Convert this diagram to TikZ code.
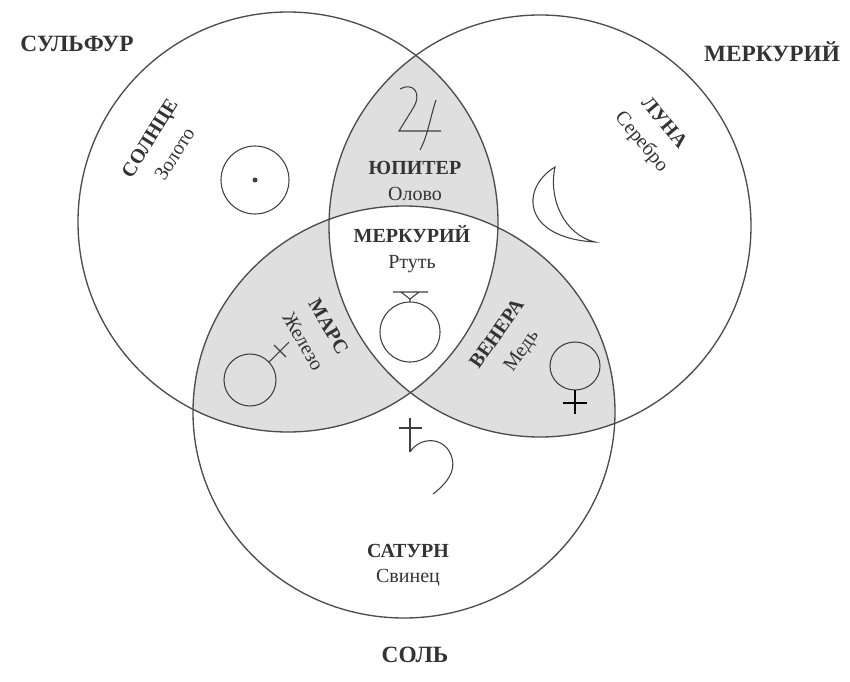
\documentclass[tikz,border=0pt]{standalone}
\usepackage{fontspec}
\setmainfont{Liberation Serif}
\begin{document}
\begin{tikzpicture}[
        x=0.75pt, y=-0.75pt,
        ring/.style={draw=black!70, line width=1pt},
        sign/.style={draw=black!75, line width=0.8pt},
        title/.style={font=\fontsize{17.5}{20}\selectfont\bfseries, text=black!80, inner sep=0pt},
        label/.style={font=\fontsize{15}{19}\selectfont, text=black!80, align=center, inner sep=0pt}
    ]
        \useasboundingbox (0,0) rectangle (850,682);
        \def\sulfurc{(288,222) circle [radius=210]}
        \def\mercuryc{(540,226) circle [radius=211]}
        \def\saltc{(404,412) ellipse [x radius=211, y radius=206]}

        % пересечения
        \begin{scope}
            \clip \sulfurc; \fill[gray!25] \mercuryc;
        \end{scope}
        \begin{scope}
            \clip \sulfurc; \fill[gray!25] \saltc;
        \end{scope}
        \begin{scope}
            \clip \mercuryc; \fill[gray!25] \saltc;
        \end{scope}
        \begin{scope}
            \clip \sulfurc; \clip \mercuryc; \fill[white] \saltc;
        \end{scope}
        \draw[ring] \sulfurc;
        \draw[ring] \mercuryc;
        \draw[ring] \saltc;

        % начала
        \node[title] (sulfur) at (77,44) {СУЛЬФУР};
        \node[title] (mercuryout) at (772,52) {МЕРКУРИЙ};
        \node[title] (salt) at (415,655) {СОЛЬ};

        % планеты и металлы
        \node[label, rotate=58] (sun) at (162,146) {\textbf{СОЛНЦЕ}\\[3pt]Золото};
        \node[label, rotate=-50] (moon) at (652,133) {\textbf{ЛУНА}\\[3pt]Серебро};
        \node[label] (jupiter) at (415,181) {\textbf{ЮПИТЕР}\\Олово};
        \node[label] (mercury) at (412,249) {\textbf{МЕРКУРИЙ}\\Ртуть};
        \node[label, rotate=-60] (mars) at (316,334) {\textbf{МАРС}\\[3pt]Железо};
        \node[label, rotate=55] (venus) at (510,343) {\textbf{ВЕНЕРА}\\[3pt]Медь};
        \node[label] (saturn) at (408,565) {\textbf{САТУРН}\\Свинец};

        % знаки
        \draw[sign] (255,180) circle [radius=34];
        \fill[black!75] (255,180) circle [radius=2.5];
        \draw[sign] (555,167) .. controls (520,188) and (522,238) .. (595,242)
            .. controls (565,235) and (548,200) .. (555,167) -- cycle;
        \draw[sign] (400,89) .. controls (412,82) and (424,92) .. (412,110) -- (399,131) -- (441,131);
        \draw[sign] (436,100) .. controls (430,118) and (428,135) .. (420,150);
        \draw[sign] (410,332) circle [radius=30];
        \draw[sign] (393,292) -- (428,292) (401,292) -- (410,299) -- (419,292) (410,299) -- (410,302);
        \draw[sign] (250,380) circle [radius=26];
        \draw[sign] (269,362) -- (289,342) (274,345) -- (286,357);
        \draw[sign] (575,366) circle [x radius=25, y radius=24];
        \draw[black, line width=1.6pt] (575,390) -- (575,414) (563,403) -- (587,403);
        \draw[sign] (410,418) -- (410,452) (399,428) -- (422,428);
        \draw[sign] (410,452) .. controls (420,436) and (446,436) .. (452,458)
            .. controls (456,472) and (446,484) .. (433,494);
    \end{tikzpicture}
\end{document}
